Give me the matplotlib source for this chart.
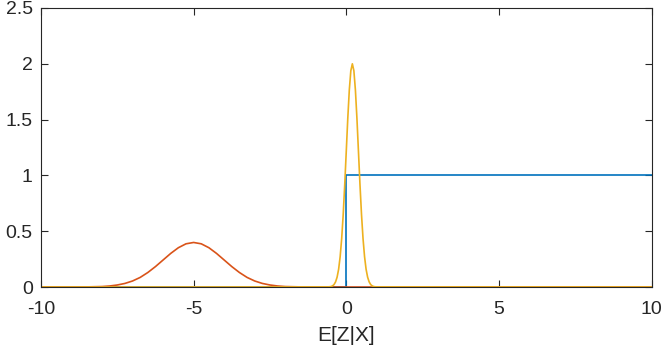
import matplotlib
matplotlib.use("Agg")
import matplotlib.pyplot as plt

# Blue step curve
step_x = [-10, 0, 0, 10]
step_y = [0, 0, 1, 1]

# Red bell curve
red_x = [-10, -9, -8.5, -8, -7.75, -7.5, -7.25, -7, -6.75, -6.5, -6.25, -6, -5.75, -5.5, -5.25,
         -5, -4.75, -4.5, -4.25, -4, -3.75, -3.5, -3.25, -3, -2.75, -2.5, -2.25, -2, -1.5, -1, 10]
red_y = [0, 0, 0.001, 0.004, 0.009, 0.018, 0.032, 0.054, 0.086, 0.130, 0.183, 0.242, 0.301, 0.352, 0.387,
         0.399, 0.387, 0.352, 0.301, 0.242, 0.183, 0.130, 0.086, 0.054, 0.032, 0.018, 0.009, 0.004, 0.001, 0, 0]

# Yellow narrow peak
yel_x = [-10, -0.6, -0.55, -0.5, -0.45, -0.4, -0.35, -0.3, -0.25, -0.2, -0.15, -0.1, -0.05, 0.0, 0.05, 0.1, 0.15,
         0.2, 0.25, 0.3, 0.35, 0.4, 0.45, 0.5, 0.55, 0.6, 0.65, 0.7, 0.75, 0.8, 0.85, 0.9, 0.95, 1.0, 10]
yel_y = [0, 0.001, 0.002, 0.004, 0.010, 0.022, 0.046, 0.088, 0.159, 0.271, 0.433, 0.649, 0.916, 1.213, 1.510, 1.765, 1.938,
         2.0, 1.938, 1.765, 1.510, 1.213, 0.916, 0.649, 0.433, 0.271, 0.159, 0.088, 0.046, 0.022, 0.010, 0.004, 0.002, 0.001, 0]

x_ticks = [-10, -5, 0, 5, 10]
x_tick_labels = ["-10", "-5", "0", "5", "10"]
y_ticks = [0, 0.5, 1, 1.5, 2, 2.5]
y_tick_labels = ["0", "0.5", "1", "1.5", "2", "2.5"]
x_label = "E[Z|X]"

plt.rcParams['font.family'] = ['Liberation Sans', 'DejaVu Sans']

fig = plt.figure(figsize=(6.64, 3.5), dpi=100)
ax = fig.add_axes([41/664, 63/350, (651.5-41)/664, (287-8)/350])

ax.plot(step_x, step_y, color='#0072BD', lw=1.2)
ax.plot(red_x, red_y, color='#D95319', lw=1.2)
ax.plot(yel_x, yel_y, color='#EDB120', lw=1.2)

ax.set_xlim(-10, 10)
ax.set_ylim(0, 2.5)
ax.set_xticks(x_ticks)
ax.set_xticklabels(x_tick_labels)
ax.set_yticks(y_ticks)
ax.set_yticklabels(y_tick_labels)
ax.tick_params(direction='in', length=5, width=0.8, colors='#262626', labelsize=14,
               top=True, right=True)
ax.tick_params(axis='x', pad=10)
ax.tick_params(axis='y', pad=6)
for s in ax.spines.values():
    s.set_color('#262626')
    s.set_linewidth(0.8)
ax.set_xlabel(x_label, fontsize=15, color='#262626', labelpad=6)

fig.savefig("out.png", dpi=100)
